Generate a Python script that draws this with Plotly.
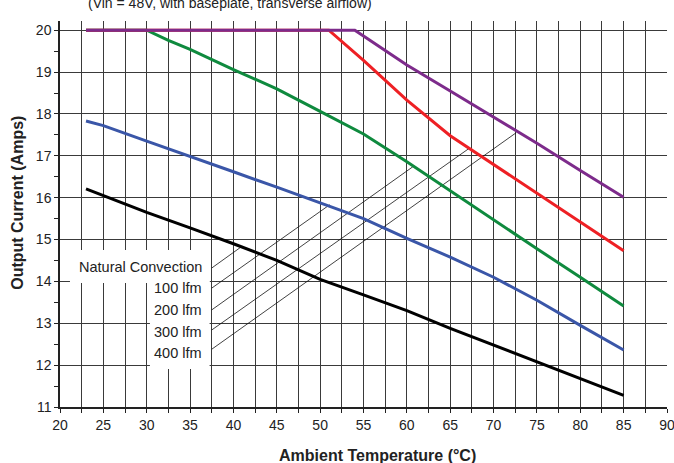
import plotly.graph_objects as go

# ---------------- data ----------------
nat_x = [23, 25, 30, 35, 40, 45, 50, 55, 60, 65, 70, 75, 80, 85]
nat_y = [16.21, 16.05, 15.65, 15.28, 14.9, 14.5, 14.05, 13.68, 13.3, 12.88, 12.48, 12.07, 11.68, 11.28]

lfm100_x = [23, 25, 30, 35, 40, 45, 50, 55, 60, 65, 70, 75, 80, 85]
lfm100_y = [17.83, 17.72, 17.35, 16.99, 16.62, 16.25, 15.88, 15.5, 15.03, 14.58, 14.1, 13.55, 12.95, 12.36]

lfm200_x = [23, 30, 32.5, 35, 40, 45, 50, 55, 60, 65, 70, 75, 80, 85]
lfm200_y = [20, 20, 19.76, 19.54, 19.06, 18.6, 18.06, 17.52, 16.86, 16.16, 15.47, 14.78, 14.1, 13.41]

lfm300_x = [23, 51, 55, 60, 65, 70, 75, 80, 85]
lfm300_y = [20, 20, 19.28, 18.33, 17.48, 16.8, 16.12, 15.42, 14.73]

lfm400_x = [23, 54, 55, 60, 65, 70, 75, 80, 85]
lfm400_y = [20, 20, 19.86, 19.17, 18.55, 17.93, 17.3, 16.65, 16.01]

series_names = ["Natural Convection", "100 lfm", "200 lfm", "300 lfm", "400 lfm"]

# leader lines: start at label, end on its curve
leader_x0 = [37.5, 37.5, 37.5, 37.5, 37.5]
leader_y0 = [14.32, 13.84, 13.32, 12.84, 12.38]
leader_x1 = [41.0, 51.1, 60.7, 67.2, 72.6]
leader_y1 = [14.84, 15.83, 16.74, 17.18, 17.55]
label_y = [14.35, 13.84, 13.32, 12.80, 12.29]

x_ticks = list(range(20, 95, 5))
y_ticks = list(range(11, 21))

# ---------------- figure ----------------
colors = ["#000000", "#3A56A8", "#0F8A3E", "#EE2024", "#7D2B8B"]
xs = [nat_x, lfm100_x, lfm200_x, lfm300_x, lfm400_x]
ys = [nat_y, lfm100_y, lfm200_y, lfm300_y, lfm400_y]

fig = go.Figure()

for i in range(5):
    fig.add_trace(go.Scatter(
        x=[leader_x0[i], leader_x1[i]], y=[leader_y0[i], leader_y1[i]],
        mode="lines", line=dict(color="#111111", width=0.8),
        showlegend=False, hoverinfo="skip"))

for name, x, y, c in zip(series_names, xs, ys, colors):
    fig.add_trace(go.Scatter(x=x, y=y, mode="lines", name=name,
                             line=dict(color=c, width=3), showlegend=False))

# white boxes behind the labels (hide grid lines)
fig.add_shape(type="rect", x0=21.15, x1=37.25, y0=13.96, y1=14.75,
              fillcolor="white", line=dict(width=0), layer="between")
fig.add_shape(type="rect", x0=30.37, x1=37.25, y0=11.91, y1=14.75,
              fillcolor="white", line=dict(width=0), layer="between")

for name, ly in zip(series_names, label_y):
    fig.add_annotation(x=36.6, y=ly, xref="x", yref="y", text=name,
                       showarrow=False, xanchor="right", yanchor="middle",
                       font=dict(size=14.5, color="#222222"))

FONT = "Liberation Sans, Arial, Helvetica, sans-serif"

fig.add_annotation(xref="paper", yref="paper", x=0.28, y=1.047,
                   text="(Vin = 48V, with baseplate, transverse airflow)",
                   showarrow=False, xanchor="center", yanchor="middle",
                   font=dict(size=14, color="#222222"))
fig.add_annotation(xref="paper", yref="paper", x=0.523, y=-0.1245,
                   text="<b>Ambient Temperature (°C)</b>",
                   showarrow=False, xanchor="center", yanchor="middle",
                   font=dict(size=16, color="#222222"))
fig.add_annotation(xref="paper", yref="paper", x=-0.0692, y=0.529,
                   text="<b>Output Current (Amps)</b>", textangle=-90,
                   showarrow=False, xanchor="center", yanchor="middle",
                   font=dict(size=16, color="#222222"))

fig.update_xaxes(
    range=[20, 90], tickvals=x_ticks, ticks="outside", ticklen=4,
    tickcolor="#222", tickfont=dict(size=14, color="#222222"),
    ticklabeloverflow="allow", automargin=False,
    showgrid=True, gridcolor="#3a3a3a", gridwidth=1,
    minor=dict(dtick=2.5, tick0=20, ticks="outside", ticklen=4, tickcolor="#222",
               showgrid=True, gridcolor="#3a3a3a", gridwidth=1),
    showline=True, linecolor="#222", linewidth=1.5, zeroline=False,
    fixedrange=True)
fig.update_yaxes(
    range=[11, 20.22], tickvals=y_ticks, ticks="outside", ticklen=4,
    tickcolor="#222", tickfont=dict(size=14, color="#222222"),
    automargin=False,
    showgrid=True, gridcolor="#3a3a3a", gridwidth=1,
    minor=dict(dtick=0.5, tick0=11, ticks="outside", ticklen=4, tickcolor="#222",
               showgrid=False),
    showline=True, linecolor="#222", linewidth=1.5, zeroline=False,
    fixedrange=True)

fig.update_layout(
    width=674, height=463,
    margin=dict(l=60, r=7, t=21, b=56, autoexpand=False),
    paper_bgcolor="white", plot_bgcolor="white",
    font=dict(family=FONT, color="#222222"),
    showlegend=False,
)

fig.write_html("out.html",
               config={"displayModeBar": False},
               post_script="document.body.style.margin='0';document.body.style.overflow='hidden';")
